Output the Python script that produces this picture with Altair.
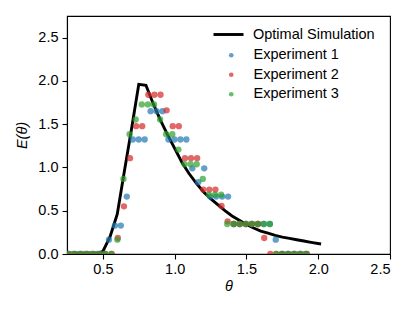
import altair as alt
import pandas as pd

# Optimal simulation curve
sim_x = [0.30, 0.35, 0.40, 0.45, 0.50, 0.55, 0.60, 0.65, 0.70, 0.75, 0.80, 0.85, 0.90, 0.95,
         1.00, 1.05, 1.10, 1.15, 1.20, 1.25, 1.30, 1.35, 1.40, 1.45, 1.50, 1.55, 1.60, 1.65,
         1.70, 1.75, 1.80, 1.85, 1.90, 1.95, 2.02]
sim_y = [0.0, 0.0, 0.0, 0.0, 0.03, 0.20, 0.46, 0.96, 1.45, 1.96, 1.95, 1.74, 1.55, 1.38,
         1.22, 1.06, 0.93, 0.82, 0.72, 0.64, 0.57, 0.50, 0.44, 0.39, 0.34, 0.30, 0.265, 0.24,
         0.215, 0.195, 0.18, 0.165, 0.15, 0.135, 0.115]

# Experiment 1 (blue)
exp1_x = [0.2515, 0.293, 0.3345, 0.376, 0.4175, 0.459, 0.5005, 0.542, 0.5835, 0.625, 0.6665,
          0.708, 0.7495, 0.791, 0.8325, 0.874, 0.9155, 0.957, 0.9985, 1.040, 1.0815, 1.123,
          1.1645, 1.206, 1.2475, 1.289, 1.3305, 1.372, 1.4135, 1.455, 1.4965, 1.538, 1.5795,
          1.621, 1.6625, 1.704, 1.7455, 1.787, 1.8285, 1.870, 1.9115]
exp1_y = [0, 0, 0, 0, 0, 0, 0, 0.166, 0.328, 0.328, 0.663,
          1.323, 1.323, 1.323, 1.65, 1.65, 1.65, 1.323, 1.323, 1.323, 1.323, 0.99,
          0.829, 0.99, 0.663, 0.663, 0.663, 0.663, 0.347, 0.347, 0.347, 0.347, 0.347,
          0.347, 0.347, 0.166, 0, 0, 0, 0, 0]

# Experiment 2 (red)
exp2_x = [0.264, 0.3065, 0.349, 0.3915, 0.434, 0.4765, 0.519, 0.5615, 0.604, 0.6465, 0.689,
          0.7315, 0.774, 0.8165, 0.859, 0.9015, 0.944, 0.9865, 1.029, 1.0715, 1.114, 1.1565,
          1.199, 1.2415, 1.284, 1.3265, 1.369, 1.4115, 1.454, 1.4965, 1.539, 1.5815, 1.624,
          1.6665, 1.709, 1.7515, 1.794, 1.8365, 1.879, 1.9215]
exp2_y = [0, 0, 0, 0, 0, 0, 0, 0, 0.185, 0.551, 1.107,
          1.477, 1.477, 1.84, 1.84, 1.84, 1.66, 1.477, 1.477, 1.107, 1.107, 1.107,
          0.744, 0.744, 0.744, 0.555, 0.377, 0.347, 0.347, 0.347, 0.347, 0.347, 0.185,
          0, 0, 0, 0, 0, 0, 0]

# Experiment 3 (green)
exp3_x = [0.261, 0.3035, 0.346, 0.3885, 0.431, 0.4735, 0.516, 0.5585, 0.601, 0.6435, 0.686,
          0.7285, 0.771, 0.8135, 0.856, 0.8985, 0.941, 0.9835, 1.026, 1.0685, 1.111, 1.1535,
          1.196, 1.2385, 1.281, 1.3235, 1.366, 1.4085, 1.451, 1.4935, 1.536, 1.5785, 1.621,
          1.6635, 1.706, 1.7485, 1.791, 1.8335, 1.876, 1.9185]
exp3_y = [0, 0, 0, 0, 0, 0, 0, 0, 0.166, 0.868, 1.384,
          1.554, 1.728, 1.728, 1.728, 1.554, 1.384, 1.384, 1.207, 1.037, 1.037, 1.037,
          0.868, 0.686, 0.686, 0.686, 0.347, 0.347, 0.347, 0.347, 0.347, 0.347, 0.347,
          0.347, 0, 0, 0, 0, 0, 0]

exp_names = ["Experiment 1", "Experiment 2", "Experiment 3"]
exp_colors = ["#1f77b4", "#d62728", "#2ca02c"]

sim_df = pd.DataFrame({"x": sim_x, "y": sim_y, "series": "Optimal Simulation"})
exp_df = pd.concat([
    pd.DataFrame({"x": exp1_x, "y": exp1_y, "series": exp_names[0]}),
    pd.DataFrame({"x": exp2_x, "y": exp2_y, "series": exp_names[1]}),
    pd.DataFrame({"x": exp3_x, "y": exp3_y, "series": exp_names[2]}),
], ignore_index=True)
exp_df["idx"] = range(len(exp_df))

FONT = "Liberation Sans"
FS = 14.5

xscale = alt.Scale(domain=[0.25, 2.5], nice=False, zero=False)
yscale = alt.Scale(domain=[0, 2.75], nice=False)

xaxis = alt.Axis(values=[0.5, 1.0, 1.5, 2.0, 2.5], format=".1f", title="θ",
                 titleFontStyle="italic", titleFontWeight="normal", titleFontSize=FS,
                 titlePadding=4, labelPadding=3)
yaxis = alt.Axis(values=[0.0, 0.5, 1.0, 1.5, 2.0, 2.5], format=".1f", title="E(θ)",
                 titleFontStyle="italic", titleFontWeight="normal", titleFontSize=FS,
                 titlePadding=8, labelPadding=4)

line = alt.Chart(sim_df).mark_line(strokeWidth=2.9, clip=True).encode(
    x=alt.X("x:Q", scale=xscale, axis=xaxis),
    y=alt.Y("y:Q", scale=yscale, axis=yaxis),
    stroke=alt.Stroke("series:N",
                      scale=alt.Scale(domain=["Optimal Simulation"], range=["black"]),
                      legend=alt.Legend(title=None, orient="none", legendX=145, legendY=2,
                                        symbolType="stroke", symbolSize=900,
                                        symbolStrokeWidth=2.9, labelOffset=8, padding=0)),
)

points = alt.Chart(exp_df).mark_circle(size=40, opacity=0.7, clip=True).encode(
    x=alt.X("x:Q", scale=xscale),
    y=alt.Y("y:Q", scale=yscale),
    color=alt.Color("series:N",
                    scale=alt.Scale(domain=exp_names, range=exp_colors),
                    legend=alt.Legend(title=None, orient="none", legendX=157, legendY=32,
                                      symbolType="circle", symbolSize=22, labelOffset=15,
                                      rowPadding=4.5, padding=0, symbolOpacity=0.7)),
    order=alt.Order("idx:Q"),
)

chart = alt.layer(line, points).resolve_scale(color="independent").properties(
    width=323, height=238,
    autosize=alt.AutoSizeParams(type="none"),
    padding={"left": 59, "top": 8, "right": 10, "bottom": 50},
).configure_view(stroke="black", strokeWidth=1.1).configure_axis(
    domainColor="black", tickColor="black", labelColor="black", titleColor="black",
    labelFont=FONT, titleFont=FONT, labelFontSize=FS, tickSize=5, grid=False,
    domainWidth=1.1, tickWidth=1.1,
).configure_legend(labelFont=FONT, labelFontSize=FS, labelColor="black")

chart.save("out.html", embed_options={"renderer": "svg", "actions": False})
